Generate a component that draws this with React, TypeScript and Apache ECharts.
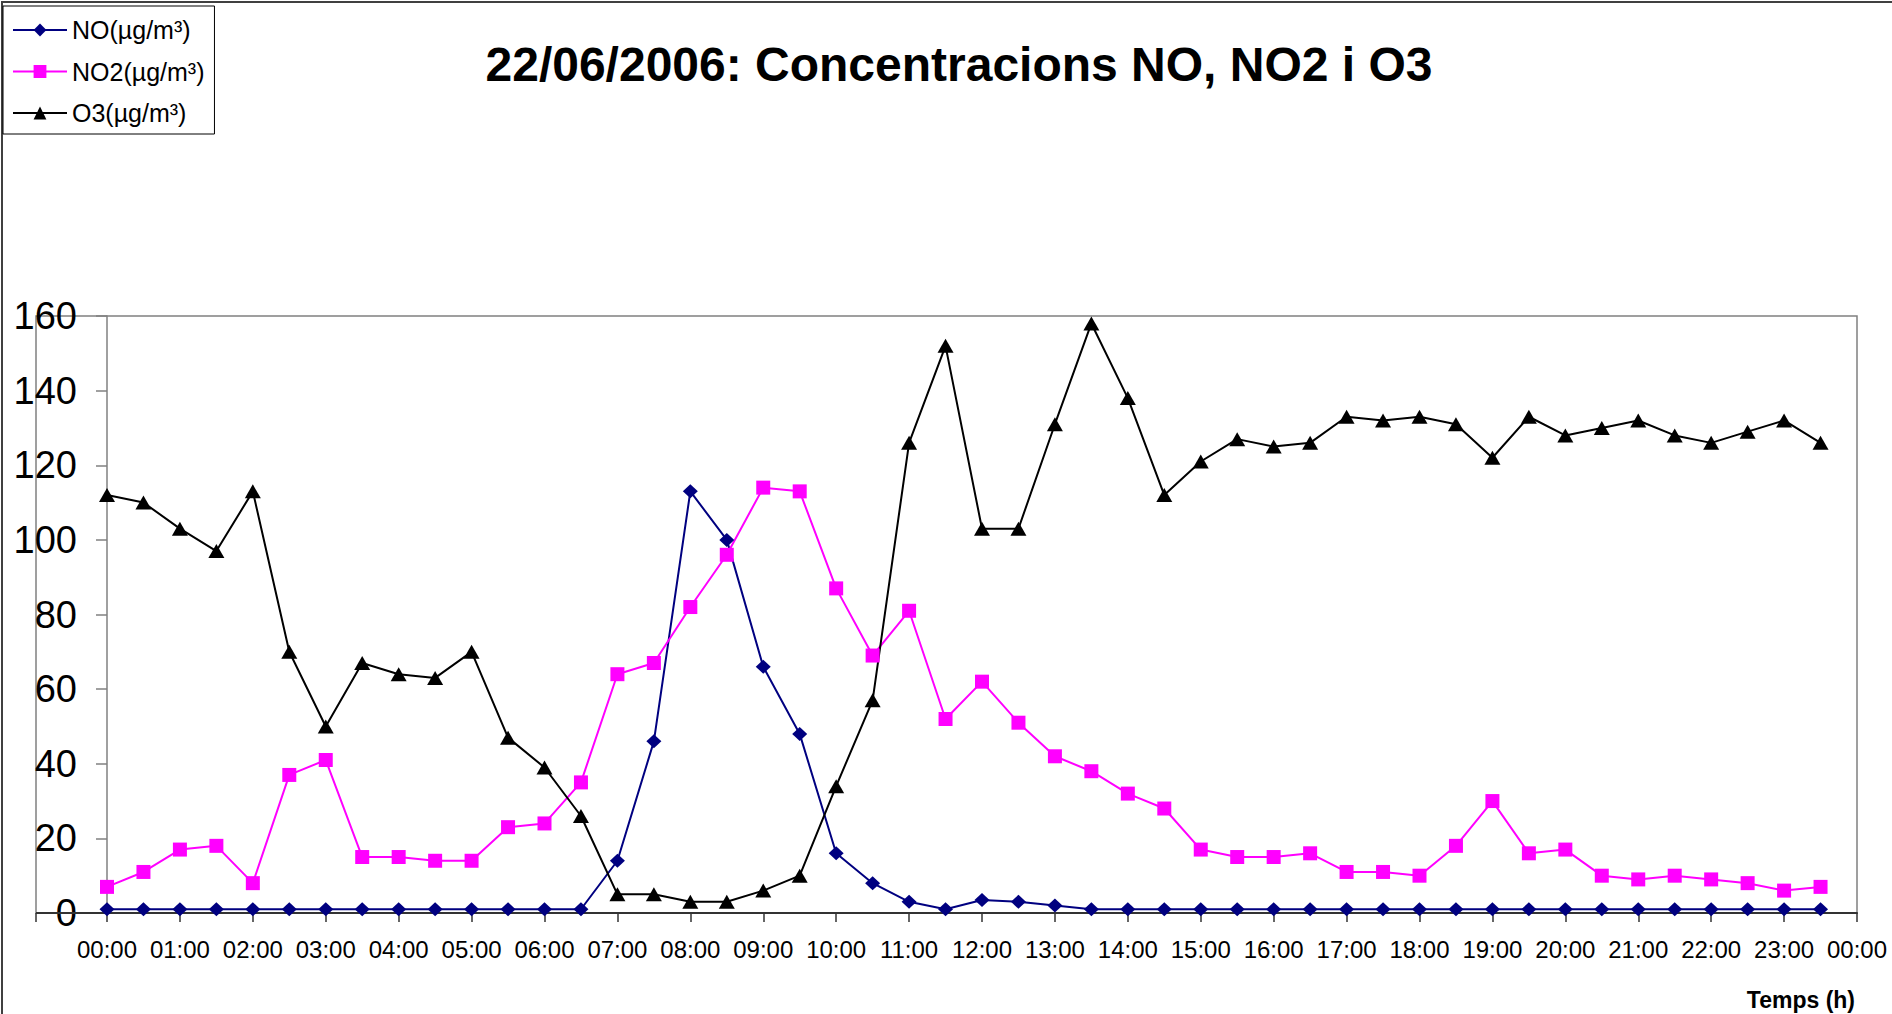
import React, { useEffect, useRef } from "react";
import * as echarts from "echarts";

// Half-hour categories; the final "24:00" closes the day and is shown as "00:00".
const times = [
  "00:00", "00:30", "01:00", "01:30", "02:00", "02:30", "03:00", "03:30",
  "04:00", "04:30", "05:00", "05:30", "06:00", "06:30", "07:00", "07:30",
  "08:00", "08:30", "09:00", "09:30", "10:00", "10:30", "11:00", "11:30",
  "12:00", "12:30", "13:00", "13:30", "14:00", "14:30", "15:00", "15:30",
  "16:00", "16:30", "17:00", "17:30", "18:00", "18:30", "19:00", "19:30",
  "20:00", "20:30", "21:00", "21:30", "22:00", "22:30", "23:00", "23:30",
  "24:00",
];

const noValues = [
  1, 1, 1, 1, 1, 1, 1, 1, 1, 1, 1, 1, 1, 1,
  14, 46, 113, 100, 66, 48, 16, 8, 3, 1, 3.5, 3, 2,
  1, 1, 1, 1, 1, 1, 1, 1, 1, 1, 1, 1, 1, 1, 1, 1, 1, 1, 1, 1, 1,
];

const no2Values = [
  7, 11, 17, 18, 8, 37, 41, 15, 15, 14, 14, 23, 24, 35, 64, 67,
  82, 96, 114, 113, 87, 69, 81, 52, 62, 51, 42, 38, 32, 28, 17, 15,
  15, 16, 11, 11, 10, 18, 30, 16, 17, 10, 9, 10, 9, 8, 6, 7,
];

const o3Values = [
  112, 110, 103, 97, 113, 70, 50, 67, 64, 63, 70, 47, 39, 26, 5, 5,
  3, 3, 6, 10, 34, 57, 126, 152, 103, 103, 131, 158, 138, 112, 121, 127,
  125, 126, 133, 132, 133, 131, 122, 133, 128, 130, 132, 128, 126, 129, 132, 126,
];

const seriesNames = ["NO(µg/m³)", "NO2(µg/m³)", "O3(µg/m³)"];
const titleText = "22/06/2006: Concentracions NO, NO2 i O3";
const xAxisTitle = "Temps (h)";
const yMin = 0;
const yMax = 160;
const yInterval = 20;

const FONT = "'Liberation Sans', Arial, Helvetica, sans-serif";

export default function App() {
  const ref = useRef<HTMLDivElement>(null);

  useEffect(() => {
    if (!ref.current) return;
    const chart = echarts.init(ref.current, null, { renderer: "svg" });
    const everyHour = (i: number) => i % 2 === 0;

    chart.setOption({
      animation: false,
      backgroundColor: "#ffffff",
      textStyle: { fontFamily: FONT },
      graphic: [
        {
          type: "polyline",
          z: 0,
          shape: { points: [[2, 1100], [2, 2], [2000, 2]] },
          style: { fill: "none", stroke: "#404040", lineWidth: 2 },
          silent: true,
        },
        {
          type: "rect",
          z: 0,
          shape: { x: 36, y: 316, width: 1821, height: 597 },
          style: { fill: "none", stroke: "#808080", lineWidth: 1.5 },
          silent: true,
        },
        {
          type: "line",
          z: 1,
          shape: { x1: 36, y1: 913, x2: 108, y2: 913 },
          style: { stroke: "#333333", lineWidth: 2 },
          silent: true,
        },
        {
          type: "line",
          z: 1,
          shape: { x1: 36, y1: 913, x2: 36, y2: 922 },
          style: { stroke: "#333333", lineWidth: 1.5 },
          silent: true,
        },
        {
          type: "text",
          z: 5,
          x: 959,
          y: 64,
          style: {
            text: titleText,
            fill: "#000000",
            fontSize: 48,
            fontWeight: "bold",
            fontFamily: FONT,
            align: "center",
            verticalAlign: "middle",
            textAlign: "center",
            textVerticalAlign: "middle",
          },
          silent: true,
        },
        {
          type: "text",
          z: 5,
          x: 1855,
          y: 1000,
          style: {
            text: xAxisTitle,
            fill: "#000000",
            fontSize: 23,
            fontWeight: "bold",
            fontFamily: FONT,
            align: "right",
            verticalAlign: "middle",
            textAlign: "right",
            textVerticalAlign: "middle",
          },
          silent: true,
        },
      ],
      legend: {
        orient: "vertical",
        left: 3,
        top: 6,
        data: seriesNames,
        itemWidth: 54,
        itemHeight: 16,
        itemGap: 16.5,
        padding: [11.5, 10, 8.5, 9],
        borderColor: "#000000",
        borderWidth: 1,
        backgroundColor: "#ffffff",
        selectedMode: false,
        textStyle: { fontSize: 25, color: "#000000", fontFamily: FONT },
      },
      grid: { left: 107, right: 35, top: 316, bottom: 101, containLabel: false },
      xAxis: {
        type: "category",
        data: times,
        boundaryGap: false,
        axisLine: { show: true, lineStyle: { color: "#333333", width: 2 } },
        axisTick: {
          show: true,
          length: 9,
          interval: everyHour,
          lineStyle: { color: "#333333", width: 1.5 },
        },
        axisLabel: {
          interval: everyHour,
          formatter: (v: string) => (v === "24:00" ? "00:00" : v),
          fontSize: 24,
          color: "#000000",
          margin: 24,
          fontFamily: FONT,
        },
        splitLine: { show: false },
      },
      yAxis: {
        type: "value",
        min: yMin,
        max: yMax,
        interval: yInterval,
        axisLine: { show: true, lineStyle: { color: "#808080", width: 1.5 } },
        axisTick: {
          show: true,
          inside: false,
          length: 11,
          lineStyle: { color: "#808080", width: 1.5 },
        },
        axisLabel: { fontSize: 38, color: "#000000", margin: 30, fontFamily: FONT },
        splitLine: { show: false },
      },
      series: [
        {
          name: seriesNames[0],
          type: "line",
          data: noValues,
          symbol: "diamond",
          symbolSize: [15, 14],
          showAllSymbol: true,
          itemStyle: { color: "#000080" },
          lineStyle: { color: "#000080", width: 2 },
        },
        {
          name: seriesNames[1],
          type: "line",
          data: no2Values,
          symbol: "rect",
          symbolSize: 14,
          showAllSymbol: true,
          itemStyle: { color: "#FF00FF" },
          lineStyle: { color: "#FF00FF", width: 2 },
        },
        {
          name: seriesNames[2],
          type: "line",
          data: o3Values,
          symbol: "triangle",
          symbolSize: [16, 14],
          showAllSymbol: true,
          itemStyle: { color: "#000000" },
          lineStyle: { color: "#000000", width: 2 },
        },
      ],
    });

    return () => chart.dispose();
  }, []);

  return (
    <div
      ref={ref}
      style={{ position: "absolute", left: 0, top: 0, width: 1892, height: 1014 }}
    />
  );
}
